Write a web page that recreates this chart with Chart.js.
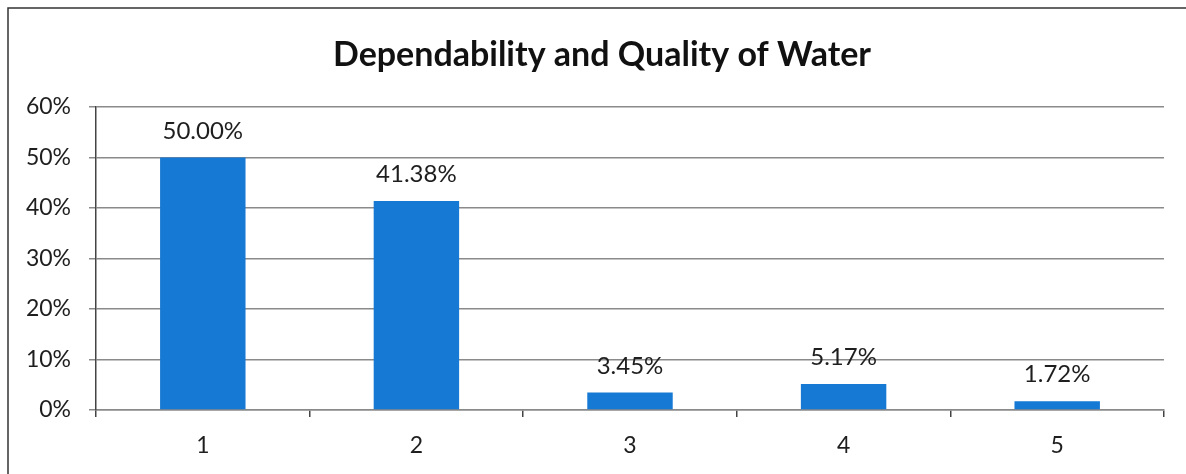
<!DOCTYPE html>
<html>
<head>
<meta charset="utf-8">
<script src="https://cdn.jsdelivr.net/npm/chart.js@4"></script>
<style>
html,body{margin:0;padding:0;background:#fff;}
#wrap{width:1186px;height:474px;position:relative;}
</style>
</head>
<body>
<div id="wrap"><canvas id="c" width="1186" height="474"></canvas></div>
<script>
const titleText = 'Dependability and Quality of Water';
const categories = ['1', '2', '3', '4', '5'];
const values = [50.00, 41.38, 3.45, 5.17, 1.72];
const valueLabels = ['50.00%', '41.38%', '3.45%', '5.17%', '1.72%'];
const yTicks = [0, 10, 20, 30, 40, 50, 60];

const FONT = 'Lato, "Open Sans", sans-serif';

const decor = {
  id: 'decor',
  beforeDraw(chart) {
    const ctx = chart.ctx;
    ctx.save();
    ctx.fillStyle = '#fff';
    ctx.fillRect(0, 0, chart.width, chart.height);
    ctx.strokeStyle = '#333';
    ctx.lineWidth = 1.5;
    ctx.beginPath();
    ctx.moveTo(8, chart.height);
    ctx.lineTo(8, 8);
    ctx.lineTo(chart.width, 8);
    ctx.stroke();
    ctx.fillStyle = '#111';
    ctx.font = 'bold 34px ' + FONT;
    ctx.textAlign = 'center';
    ctx.textBaseline = 'middle';
    ctx.fillText(titleText, 602, 55);
    ctx.restore();
  },
  afterDatasetsDraw(chart) {
    const ctx = chart.ctx;
    const meta = chart.getDatasetMeta(0);
    ctx.save();
    ctx.fillStyle = '#1e1e1e';
    ctx.font = '24px ' + FONT;
    ctx.textAlign = 'center';
    ctx.textBaseline = 'alphabetic';
    meta.data.forEach((bar, i) => {
      ctx.fillText(valueLabels[i], bar.x, bar.y - 19);
    });
    ctx.restore();
  }
};

new Chart(document.getElementById('c'), {
  type: 'bar',
  data: {
    labels: categories,
    datasets: [{
      data: values,
      backgroundColor: '#1679d4',
      borderWidth: 0,
      barPercentage: 0.4,
      categoryPercentage: 1.0
    }]
  },
  options: {
    responsive: false,
    animation: false,
    devicePixelRatio: 1,
    layout: { padding: { left: 0, right: 22, top: 107, bottom: 0 } },
    plugins: {
      legend: { display: false },
      title: { display: false },
      tooltip: { enabled: false }
    },
    scales: {
      x: {
        offset: true,
        grid: {
          offset: true,
          drawOnChartArea: false,
          drawTicks: true,
          tickLength: 7,
          color: '#444',
          lineWidth: 1.5
        },
        border: { display: true, color: '#8a8a8a', width: 1.5 },
        ticks: {
          color: '#1e1e1e',
          font: { family: FONT, size: 23 },
          padding: 15
        },
        afterFit(scale) { scale.height = 64; }
      },
      y: {
        min: 0,
        max: 60,
        afterBuildTicks(scale) { scale.ticks = yTicks.map(v => ({ value: v })); },
        grid: {
          color: '#8a8a8a',
          lineWidth: 1.5,
          tickLength: 7,
          drawTicks: true
        },
        border: { display: true, color: '#444', width: 1.5 },
        ticks: {
          color: '#1e1e1e',
          font: { family: FONT, size: 23 },
          padding: 18,
          callback: (v) => v + '%'
        },
        afterFit(scale) { scale.width = 96; }
      }
    }
  },
  plugins: [decor]
});
</script>
</body>
</html>
